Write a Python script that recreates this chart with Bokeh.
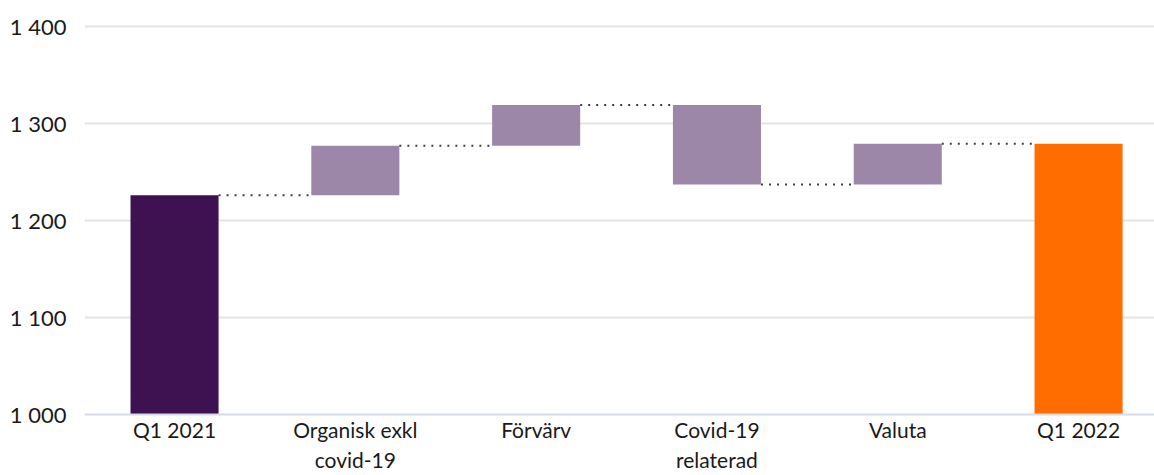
from bokeh.plotting import figure
from bokeh.models import FixedTicker, Range1d
from bokeh.embed import file_html
from bokeh.resources import INLINE

# ---- data ----
categories = ["Q1 2021", "Organisk exkl\ncovid-19", "Förvärv", "Covid-19\nrelaterad", "Valuta", "Q1 2022"]
start_value = 1226
changes = [51, 42, -82, 42]
end_value = 1279
y_ticks = [1000, 1100, 1200, 1300, 1400]
y_tick_labels = ["1 000", "1 100", "1 200", "1 300", "1 400"]

# ---- derived waterfall geometry ----
BAR_W = 0.487
xs = list(range(len(categories)))
bottoms = [0]
tops = [start_value]
level = start_value
for c in changes:
    new = level + c
    bottoms.append(min(level, new))
    tops.append(max(level, new))
    level = new
bottoms.append(0)
tops.append(end_value)
colors = ["#3E1151"] + ["#9D87A8"] * len(changes) + ["#FF6C00"]

levels = [start_value]
lv = start_value
for c in changes:
    lv += c
    levels.append(lv)
seg_x0 = [xs[i] + BAR_W / 2 for i in range(len(levels))]
seg_x1 = [xs[i + 1] - BAR_W / 2 for i in range(len(levels))]

font = "Lato"

p = figure(width=1154, height=475, output_backend="svg", toolbar_location=None,
           x_range=Range1d(-0.498, 5.42), y_range=Range1d(1000, 1402),
           min_border_left=84, min_border_right=0, min_border_top=24, min_border_bottom=61)
p.outline_line_color = None
p.background_fill_color = "white"
p.border_fill_color = "white"

p.vbar(x=xs, bottom=bottoms, top=tops, width=BAR_W, fill_color=colors, line_color=None)
p.segment(x0=seg_x0, y0=levels, x1=seg_x1, y1=levels, line_color="#404040",
          line_width=2, line_dash="2 6")

# grid
p.xgrid.grid_line_color = None
p.ygrid.grid_line_color = "#E4E4E4"
p.ygrid.grid_line_width = 2
p.ygrid.ticker = FixedTicker(ticks=y_ticks[1:])

# y axis
p.yaxis.ticker = FixedTicker(ticks=y_ticks)
p.yaxis.major_label_overrides = {t: l for t, l in zip(y_ticks, y_tick_labels)}
p.yaxis.axis_line_color = None
p.yaxis.major_tick_line_color = None
p.yaxis.minor_tick_line_color = None
p.yaxis.major_label_text_font = font
p.yaxis.major_label_text_font_size = "22px"
p.yaxis.major_label_text_color = "#1A1A1A"
p.yaxis.major_label_standoff = 12

# x axis
p.xaxis.ticker = FixedTicker(ticks=xs)
p.xaxis.major_label_overrides = {x: c for x, c in zip(xs, categories)}
p.xaxis.axis_line_color = "#D3DAE8"
p.xaxis.axis_line_width = 2
p.xaxis.major_tick_line_color = None
p.xaxis.minor_tick_line_color = None
p.xaxis.major_label_text_font = font
p.xaxis.major_label_text_font_size = "21px"
p.xaxis.major_label_text_color = "#1A1A1A"
p.xaxis.major_label_standoff = -4

open("out.html", "w").write(file_html(p, INLINE))
